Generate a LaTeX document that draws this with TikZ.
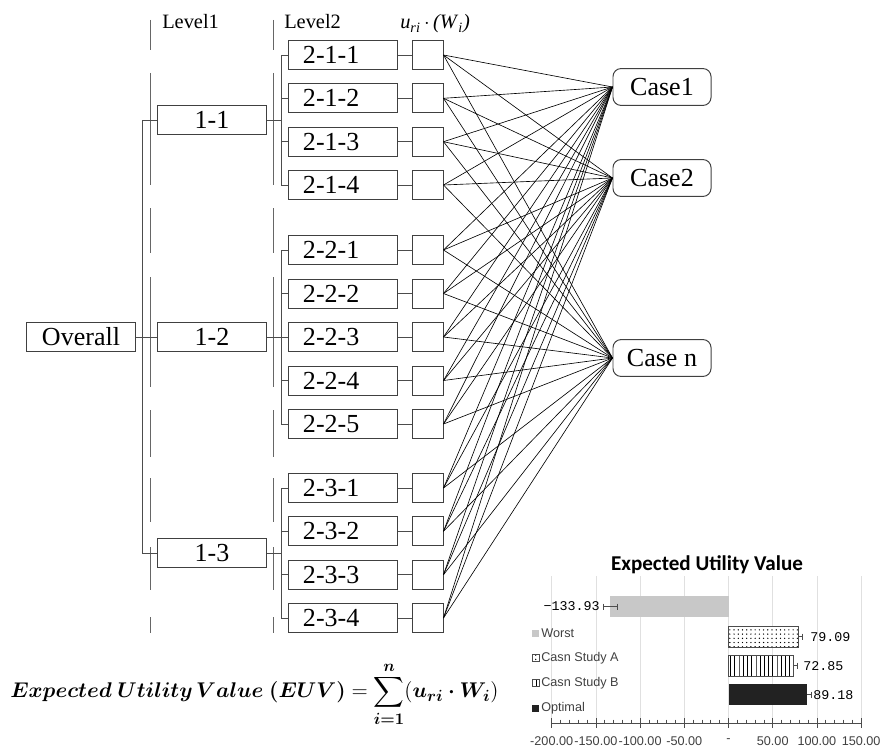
\documentclass[tikz,border=0pt]{standalone}
\usepackage{amsmath,bm}
\usepackage{fontspec}
\setmainfont{Liberation Serif}
\newfontfamily\chartfont{Liberation Sans}
\newfontfamily\titlefont{Carlito}
\newfontfamily\valfont{Liberation Mono}
\usetikzlibrary{patterns}
\definecolor{worstgrey}{RGB}{200,200,200}
\definecolor{optdark}{RGB}{34,34,34}

\begin{document}
\begin{tikzpicture}[x=0.025cm,y=-0.025cm]
\tikzstyle{box}=[rectangle, draw=black!75, line width=0.7pt, minimum height=0.725cm, inner sep=0pt, font=\fontsize{18.5}{20}\selectfont]
\tikzstyle{crit}=[box, minimum width=2.7cm]
\tikzstyle{sub}=[box, text width=2cm, inner xsep=0.35cm, align=left]
\tikzstyle{wbox}=[box, minimum width=0.775cm]
\tikzstyle{case}=[rectangle, rounded corners=0.2cm, draw=black!75, line width=0.7pt, minimum width=2.45cm, minimum height=0.92cm, font=\fontsize{18.5}{20}\selectfont]
\tikzstyle{head}=[inner sep=0pt, anchor=base west, font=\fontsize{14.5}{16}\selectfont]
\tikzstyle{tree}=[black!70, line width=0.6pt]
\tikzstyle{dashline}=[black!60, line width=0.6pt]
\tikzstyle{connect}=[black, line width=0.45pt]
\tikzstyle{gridline}=[black!12, line width=0.5pt]
\tikzstyle{axis}=[black!70, line width=0.5pt]
\tikzstyle{legend}=[inner sep=0pt, anchor=west, font=\chartfont\fontsize{9}{10}\selectfont, text=black!75]
\tikzstyle{val}=[inner sep=0pt, font=\valfont\fontsize{9.5}{11}\selectfont]
\useasboundingbox (0,0) rectangle (880,748);

% level separators
\foreach \a/\b in {20/50,73/185,208/253,277/387,410/457,478/522,547/590,617/633}{
	\draw[dashline] (150,\a) -- (150,\b);
	\draw[dashline] (273,\a) -- (273,\b);
}
\node[head] (hl1) at (162,29) {Level1};
\node[head] (hl2) at (284,29) {Level2};
\node[head] (huw) at (400,29) {\textit{u}\textsubscript{\textit{ri}}\,$\cdot$\,\textit{(W}\textsubscript{\textit{i}}\textit{)}};

% hierarchy
\node[crit] (ov) at (81,337) {Overall};
\node[crit] (l11) at (212,120) {1-1};
\node[crit] (l12) at (212,337) {1-2};
\node[crit] (l13) at (212,553) {1-3};

\foreach \i/\y in {1/55,2/98.3,3/141.7,4/185}{
	\node[sub] (m21\i) at (343,\y) {2-1-\i};
	\node[wbox] (w21\i) at (427.5,\y) {};
}
\foreach \i/\y in {1/250,2/293.5,3/337,4/380.5,5/424}{
	\node[sub] (m22\i) at (343,\y) {2-2-\i};
	\node[wbox] (w22\i) at (427.5,\y) {};
}
\foreach \i/\y in {1/488,2/531.3,3/574.7,4/618}{
	\node[sub] (m23\i) at (343,\y) {2-3-\i};
	\node[wbox] (w23\i) at (427.5,\y) {};
}

\node[case] (c1) at (662,87) {Case1};
\node[case] (c2) at (662,178) {Case2};
\node[case] (cn) at (662,358) {Case n};

\draw[tree] (ov.east) -- (l12.west);
\draw[tree] (l11.west) -- ++(-15,0) |- (l13.west);
\draw[tree] (l11.east) -- ++(15,0) coordinate (b1);
\draw[tree] (l12.east) -- ++(15,0) coordinate (b2);
\draw[tree] (l13.east) -- ++(15,0) coordinate (b3);
\foreach \i in {1,...,4}{
	\draw[tree] (b1) |- (m21\i.west);
	\draw[tree] (m21\i.east) -- (w21\i.west);
}
\foreach \i in {1,...,5}{
	\draw[tree] (b2) |- (m22\i.west);
	\draw[tree] (m22\i.east) -- (w22\i.west);
}
\foreach \i in {1,...,4}{
	\draw[tree] (b3) |- (m23\i.west);
	\draw[tree] (m23\i.east) -- (w23\i.west);
}

\foreach \w in {211,212,213,214,221,222,223,224,225,231,232,233,234}
	\foreach \c in {c1,c2,cn}
		\draw[connect] (w\w.east) -- (\c.west);

% formula
\node[anchor=west, inner sep=0pt, font=\fontsize{15}{18}\selectfont] (euv) at (10,694)
	{\resizebox{12.2cm}{!}{$\displaystyle \bm{Expected\ Utility\,Value\ (EUV)} = \sum_{\bm{i=1}}^{\bm{n}}(\bm{u_{ri}\cdot W_i})$}};

% chart
\node[font=\titlefont\bfseries\fontsize{15}{17}\selectfont, inner sep=0pt] (ctitle) at (707,565) {Expected Utility Value};
\foreach \v in {-200,-150,...,150}
	\draw[gridline] ({728.5+0.884*\v},576) -- ({728.5+0.884*\v},723);

\fill[worstgrey] (610.1,596) rectangle (728.5,617);
\fill[white] (728.5,626) rectangle (798.4,647);
\draw[black!70, pattern=dots] (728.5,626) rectangle (798.4,647);
\fill[white] (728.5,655) rectangle (792.9,676);
\draw[black!70, pattern=vertical lines] (728.5,655) rectangle (792.9,676);
\fill[optdark] (728.5,684) rectangle (807.3,705);

% error bars
\draw[black!70] (603,606.5) -- (617,606.5) (603,603.5) -- (603,609.5) (617,603.5) -- (617,609.5);
\draw[black!70] (798.4,636.5) -- (802,636.5) (802,633.5) -- (802,639.5);
\draw[black!70] (792.9,665.5) -- (797,665.5) (797,662.5) -- (797,668.5);
\draw[black!70] (807.3,694.5) -- (811,694.5) (811,691.5) -- (811,697.5);

\node[val, anchor=east] (vw) at (600,606.5) {−133.93};
\node[val, anchor=west] (va) at (810,637) {79.09};
\node[val, anchor=west] (vb) at (803,666) {72.85};
\node[val, anchor=west] (vo) at (813,695) {89.18};

% legend
\fill[worstgrey] (532,629.5) rectangle (539,636.5);
\draw[black!70, pattern=dots] (532,654.5) rectangle (539,661.5);
\draw[black!70, pattern=vertical lines] (532,679.5) rectangle (539,686.5);
\fill[optdark] (532,704.5) rectangle (539,711.5);
\node[legend] (lw) at (541,633) {Worst};
\node[legend] (la) at (541,658) {Casn Study A};
\node[legend] (lb) at (541,683) {Casn Study B};
\node[legend] (lo) at (541,708) {Optimal};

% axis
\draw[axis] (552,723) -- (862,723);
\foreach \v in {-200,-150,...,150}
	\draw[axis] ({728.5+0.884*\v},718) -- ({728.5+0.884*\v},728);
\foreach \v in {-190,-180,...,140}
	\draw[axis] ({728.5+0.884*\v},719.5) -- ({728.5+0.884*\v},723);
\foreach \v/\t in {-200/-200.00,-150/-150.00,-100/-100.00,-50/-50.00,0/-,50/50.00,100/100.00,150/150.00}
	\node[legend, anchor=center] at ({728.5+0.884*\v},741) {\t};
\end{tikzpicture}
\end{document}
